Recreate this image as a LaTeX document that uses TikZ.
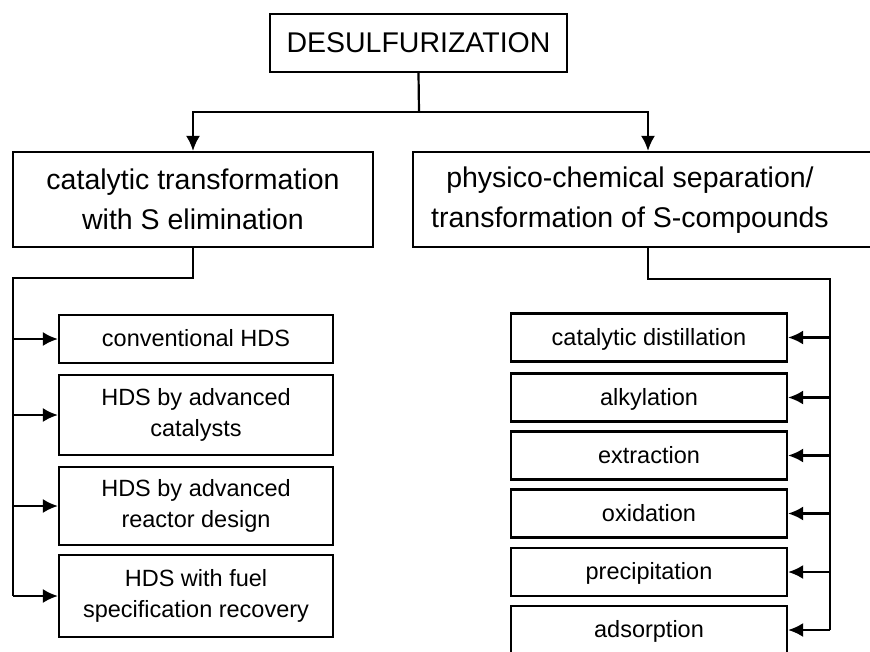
\documentclass[tikz,border=0pt]{standalone}
\usepackage{fontspec}
\setmainfont{Liberation Sans}
\usetikzlibrary{arrows.meta}
\begin{document}
\begin{tikzpicture}[x=1pt,y=-1pt,
        box/.style={draw,line width=2.2pt,inner sep=0pt,align=center},
        big/.style={font=\fontsize{28.5}{40}\selectfont},
        small/.style={font=\fontsize{23.5}{31}\selectfont},
        oneline/.style={text height=17pt,text depth=2pt},
        arr/.style={line width=2.2pt,-{Latex[length=15pt,width=14pt]}},
        trunk/.style={line width=2.2pt}]
        \useasboundingbox (0,0) rectangle (870,651);
        \node[box,big,minimum width=297pt,minimum height=58pt] (desulf) at (418.5,43) {DESULFURIZATION};
        \node[box,big,minimum width=360pt,minimum height=95pt] (catal) at (193,199.5) {catalytic transformation\\with S elimination};
        \node[box,big,minimum width=470pt,minimum height=95pt] (physchem) at (648,199.5)
            {\begin{tabular}{@{}c@{}}physico-chemical separation/\\transformation of S-compounds\end{tabular}\hspace{36pt}};
        \coordinate (split) at (419,112);
        \draw[trunk] (desulf.south) -- (split);
        \draw[arr] (split) -| (catal.north);
        \draw[arr] (split) -| (physchem.north);

        % left branch
        \coordinate (lturn) at (13,278);
        \coordinate (lend) at (13,596);
        \draw[trunk] (catal.south) |- (lturn) -- (lend);
        \node[box,small,oneline,minimum width=274pt,minimum height=48pt] (hdsa) at (196,339) {conventional HDS};
        \foreach \name/\ypos/\boxh/\txt in {hdsb/415/80/{HDS by advanced\\catalysts},
                hdsc/506/78/{HDS by advanced\\reactor design},
                hdsd/596/82/{HDS with fuel\\specification recovery}} {
            \node[box,small,minimum width=274pt,minimum height=\boxh pt] (\name) at (196,\ypos) {\txt};
        }
        \foreach \name in {hdsa,hdsb,hdsc,hdsd}
            \draw[arr] (lturn |- \name.west) -- (\name.west);

        % right branch
        \coordinate (rturn) at (830,279);
        \coordinate (rend) at (830,630);
        \draw[trunk] (physchem.south) |- (rturn) -- (rend);
        \foreach \name/\ypos/\txt in {sepa/337.5/{catalytic distillation},
                sepb/397.5/alkylation, sepc/455.5/extraction,
                sepd/513.5/oxidation, sepe/572/precipitation,
                sepf/630/adsorption} {
            \node[box,small,oneline,minimum width=276pt,minimum height=48pt] (\name) at (649,\ypos) {\txt};
            \draw[arr] (rturn |- \name.east) -- (\name.east);
        }
    \end{tikzpicture}
\end{document}
